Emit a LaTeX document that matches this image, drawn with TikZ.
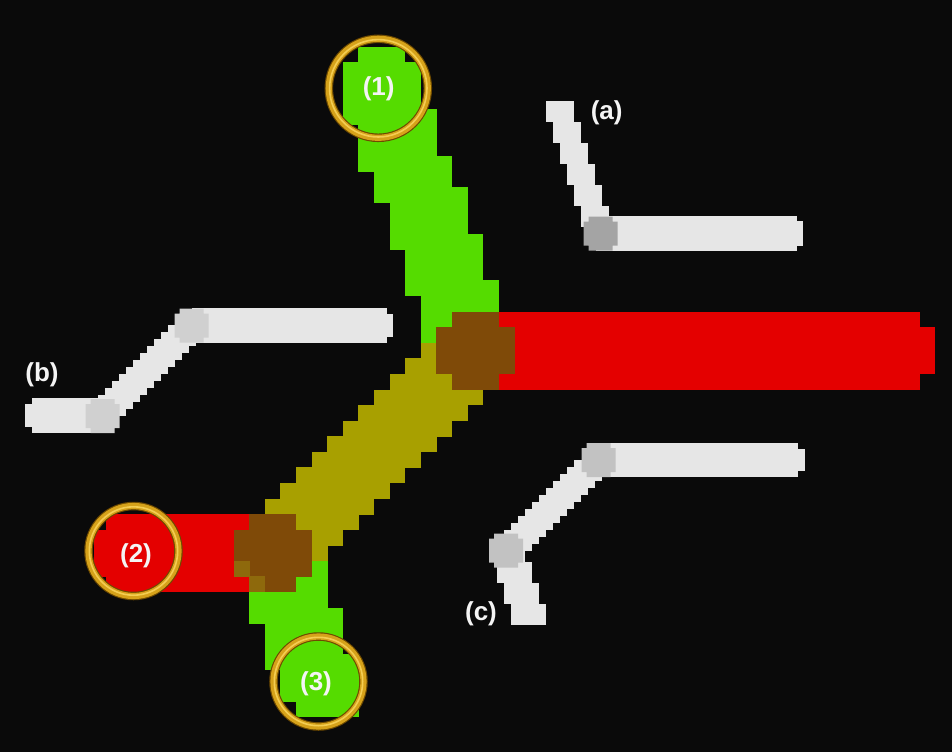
\documentclass[tikz,border=0pt]{standalone}
\usepackage{fontspec}
\setmainfont{Liberation Sans}

\definecolor{bg}{HTML}{0A0A0A}
\definecolor{leafgreen}{HTML}{55DC00}
\definecolor{barred}{HTML}{E40000}
\definecolor{olivebar}{HTML}{A8A000}
\definecolor{joinbrown}{HTML}{7F4A08}
\definecolor{mixbrown}{HTML}{8E690C}
\definecolor{rodwhite}{HTML}{E6E6E6}
\definecolor{jointa}{HTML}{A4A4A4}
\definecolor{jointb}{HTML}{D0D0D0}
\definecolor{jointc}{HTML}{C2C2C2}
\definecolor{ringdark}{HTML}{6E4A00}
\definecolor{ringgold}{HTML}{D6A21A}
\definecolor{ringlight}{HTML}{F4CD52}
\definecolor{labelwhite}{HTML}{F4F4F4}

% size of one coarse raster cell
\newcommand\cellsize{15.58}

% rows of coarse cells: row/first column/last column
\newcommand\cells[2]{%
  \foreach \r/\a/\b in {#2}{%
    \fill[#1] ({\a*\cellsize},{\r*\cellsize}) rectangle ({(\b+1)*\cellsize+0.4},{(\r+1)*\cellsize+0.4});%
  }}

% slanted rod rasterised in 7pt rows: x-top, y-top, x-bottom, y-bottom, half width, colour
\newcommand\wseg[6]{%
  \pgfmathtruncatemacro\wrows{round((#4-#2)/7)-1}%
  \foreach \k in {0,...,\wrows}{%
    \pgfmathsetmacro\wy{#2+7*\k}%
    \pgfmathsetmacro\wc{#1+(#3-#1)*(\wy+3.5-#2)/(#4-#2)}%
    \pgfmathsetmacro\wxl{7*round((\wc-#5)/7)}%
    \pgfmathsetmacro\wxr{7*round((\wc+#5)/7)}%
    \fill[#6] (\wxl,\wy) rectangle (\wxr,\wy+7.4);%
  }}

% blocky round joint
\newcommand\joint[3]{%
  \fill[#3, shift={(#1,#2)}] (-12,-17) -- (12,-17) -- (12,-12) -- (17,-12) -- (17,12) -- (12,12)
    -- (12,17) -- (-12,17) -- (-12,12) -- (-17,12) -- (-17,-12) -- (-12,-12) -- cycle;}

% golden ring
\newcommand\goldring[3]{%
  \draw[ringdark, line width=8.5] (#1,#2) circle (#3);
  \draw[ringgold, line width=6.2] (#1,#2) circle (#3);
  \draw[ringlight, line width=1.6] (#1,#2) circle (#3-0.8);}

\tikzset{
  tag/.style={text=labelwhite, font=\fontsize{26}{30}\selectfont\bfseries, inner sep=0pt}
}

\begin{document}
\begin{tikzpicture}[x=1pt,y=-1pt]
\fill[bg] (0,0) rectangle (952,752);
\useasboundingbox (0,0) rectangle (952,752);

% upper green branch
\cells{leafgreen}{3/23/25,4/22/26,5/22/26,6/22/26,7/22/27,8/23/27,9/23/27,10/23/28,11/24/28,
  12/24/29,13/25/29,14/25/29,15/25/30,16/26/30,17/26/30,18/26/31,19/27/31,20/27/28,21/27/27}
% olive middle branch
\cells{olivebar}{22/27/28,23/26/28,24/25/28,25/24/30,26/23/29,27/22/28,28/21/27,29/20/26,
  30/19/25,31/18/24,32/17/23,33/19/22,34/20/21,35/20/20}
% long red branch
\cells{barred}{20/31/58,21/31/59,22/31/59,23/31/59,24/31/58}
% upper junction
\cells{joinbrown}{20/29/31,21/28/32,22/28/32,23/28/32,24/29/31}

% short red branch
\fill[barred] (106,{33*\cellsize}) rectangle ({16*\cellsize},{34*\cellsize+0.4});
\fill[barred] (93.5,{34*\cellsize}) rectangle ({16*\cellsize},{37*\cellsize+0.4});
\fill[barred] (106,{37*\cellsize}) rectangle ({16*\cellsize},{38*\cellsize});
% lower green branch
\cells{leafgreen}{36/16/20,37/16/20,38/16/20,39/16/21,40/17/21,41/17/21,42/17/22,43/18/22,
  44/18/22,45/19/22}
% lower junction
\cells{joinbrown}{33/16/18,34/15/19,35/15/19,36/15/19,37/16/18}
\cells{mixbrown}{36/15/15,37/16/16}

% rod (a)
\wseg{556}{101}{600}{233}{14.5}{rodwhite}
\fill[rodwhite] (596,216) rectangle (797,251);
\fill[rodwhite] (796,221) rectangle (803,246);
\joint{600.5}{233.5}{jointa}

% rod (b)
\wseg{192}{325}{102}{415}{22}{rodwhite}
\fill[rodwhite] (192,308) rectangle (387,343);
\fill[rodwhite] (386,314) rectangle (393,337);
\fill[rodwhite] (32,398) rectangle (105,433);
\fill[rodwhite] (25,404) rectangle (33,427);
\joint{191.5}{325.5}{jointb}
\joint{102.5}{416}{jointb}

% rod (c)
\wseg{598}{460}{506}{550}{22}{rodwhite}
\wseg{508}{548}{531}{625}{17}{rodwhite}
\fill[rodwhite] (598,443) rectangle (798,477);
\fill[rodwhite] (797,449) rectangle (805,471);
\joint{598.5}{460}{jointc}
\joint{506}{550.5}{jointc}

% rings round the branch ends
\goldring{378.3}{88.3}{49.5}
\goldring{133.5}{551}{45}
\goldring{318.5}{681.5}{45}

% labels
\node[tag] (one) at (378.7,89) {(1)};
\node[tag] (two) at (136,555.5) {(2)};
\node[tag] (three) at (316,683.5) {(3)};
\node[tag] (rodA) at (606.7,113) {(a)};
\node[tag] (rodB) at (42,374.5) {(b)};
\node[tag] (rodC) at (481,613.5) {(c)};
\end{tikzpicture}
\end{document}
